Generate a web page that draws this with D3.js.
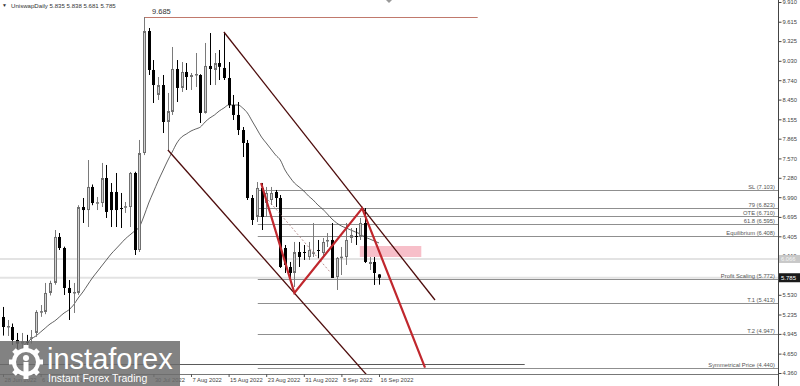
<!DOCTYPE html>
<html><head><meta charset="utf-8">
<script src="https://cdn.jsdelivr.net/npm/d3@7"></script>
<style>
html,body{margin:0;padding:0;background:#fff;}
svg{display:block;font-family:"Liberation Sans",Arial,sans-serif;}
</style></head><body>
<svg id="c" width="800" height="386"></svg>
<script>
// ---------- DATA ----------
const symbol = "UniswapDaily";
const firstDay = "2022-06-28";
const open  = [5.198,5.048,5.048,4.854,4.800,4.830,4.884,4.959,5.273,5.273,5.557,5.707,6.395,6.230,5.632,5.557,5.557,6.843,6.798,7.143,6.903,6.903,7.277,7.068,7.068,6.828,6.843,6.843,7.352,6.200,7.651,9.476,8.893,8.519,8.668,8.115,8.265,8.908,8.624,8.863,8.788,8.818,8.818,8.250,8.953,8.893,8.997,8.923,8.773,8.369,8.220,7.995,7.801,6.978,6.694,7.128,6.903,6.948,7.068,6.978,6.230,5.946,5.856,6.170,6.170,6.095,6.155,6.200,6.155,6.330,6.350,5.796,6.090,6.095,6.380,6.410,6.395,6.604,5.991,6.021,5.835];
const high  = [5.348,5.153,5.100,4.959,4.959,4.930,5.003,5.300,5.377,5.707,5.740,6.499,6.454,6.250,5.751,5.707,6.870,6.978,7.546,7.180,6.993,7.502,7.472,7.202,7.352,7.053,6.918,7.367,7.370,7.846,9.685,9.521,9.042,8.788,8.818,8.549,9.237,9.042,9.012,8.997,8.848,9.147,8.830,9.297,9.446,9.147,9.192,9.461,9.012,8.519,8.414,8.040,7.846,7.023,7.217,7.202,7.143,7.143,7.098,7.023,6.275,6.021,6.320,6.320,6.275,6.320,6.604,6.350,6.380,6.454,6.604,6.095,6.245,6.604,6.529,6.529,6.679,6.828,6.095,6.095,5.838];
const low   = [4.920,4.914,4.780,4.720,4.700,4.720,4.800,4.900,5.200,5.240,5.520,5.680,6.200,5.527,5.153,5.258,5.530,6.604,6.544,6.870,6.798,6.843,6.679,6.544,6.544,6.529,6.754,6.544,6.125,6.170,7.620,8.818,8.399,8.444,7.950,7.696,8.220,8.414,8.564,8.594,8.594,8.638,8.100,8.240,8.668,8.668,8.743,8.743,8.324,8.145,7.920,7.591,6.948,6.574,6.619,6.499,6.694,6.873,6.843,5.931,5.856,5.781,5.647,5.946,6.051,6.051,6.095,6.081,6.081,6.245,5.781,5.602,5.826,5.976,6.305,6.275,6.350,6.006,5.901,5.677,5.681];
const close = [5.048,5.063,4.854,4.800,4.830,4.810,4.895,5.273,5.285,5.557,5.707,6.395,6.230,5.632,5.557,5.572,6.843,6.798,7.143,6.903,6.915,7.277,6.769,6.798,6.798,6.815,6.855,7.352,6.200,7.651,9.476,8.893,8.668,8.668,8.115,8.279,8.908,8.624,8.863,8.788,8.818,8.833,8.250,8.953,8.908,8.997,8.940,8.773,8.369,8.220,7.995,7.801,6.978,6.649,7.128,6.694,7.053,7.053,6.978,5.946,5.976,5.856,6.170,6.095,6.160,6.200,6.165,6.190,6.320,6.350,5.781,6.081,6.100,6.350,6.425,6.395,6.604,6.021,6.021,5.856,5.785];
const ma    = [null,null,null,null,4.749,4.809,4.869,4.914,4.973,5.033,5.093,5.138,5.198,5.258,5.303,5.377,5.482,5.572,5.677,5.781,5.871,5.961,6.051,6.140,6.215,6.290,6.365,6.425,6.484,6.544,6.709,6.903,7.068,7.232,7.382,7.531,7.666,7.801,7.890,7.935,7.980,8.010,8.040,8.115,8.175,8.220,8.279,8.324,8.369,8.369,8.369,8.324,8.250,8.130,8.010,7.890,7.801,7.711,7.621,7.546,7.397,7.292,7.202,7.143,7.083,7.008,6.948,6.873,6.813,6.739,6.664,6.604,6.559,6.529,6.499,6.469,6.440,6.395,6.365,6.335,6.305];

const yTickValues = [9.910,9.615,9.325,9.030,8.740,8.450,8.155,7.865,7.570,7.280,6.990,6.695,6.405,6.110,5.820,5.530,5.235,4.945,4.650,4.360];
const dateTickValues = ["2022-06-28","2022-07-06","2022-07-14","2022-07-22","2022-07-30","2022-08-07","2022-08-15","2022-08-23","2022-08-31","2022-09-08","2022-09-16"];

// fibonacci / target levels
const levelNames  = ["SL","79","OTE","61.8","Equilibrium","Profit Scaling","T.1","T.2","Symmetrical Price"];
const levelValues = [7.103,6.823,6.710,6.595,6.408,5.772,5.413,4.947,4.440];
const levelStartDay = 54.2;

const peakValue = 9.685, peakStartDay = 30, peakEndDay = 101;
const zigzagDays   = [54.9, 62.0, 76.4, 89.8];
const zigzagPrices = [7.202, 5.557, 6.823, 4.440];
const channelUpperDays = [47.0, 91.9],  channelUpperPrices = [9.461, 5.452];
const channelLowerDays = [35.1, 78.0],  channelLowerPrices = [7.696, 4.282];
const dashedDays = [56.4, 69.6], dashedPrices = [6.948, 5.871];
const zoneDays = [75.9, 89.0], zonePrices = [6.260, 6.095];
const markerLevel = 6.066, markerLevelLabel = "6.066";
const lowLineValue = 4.495, lowLineEndDay = 111;
const lastPrice = 5.785;

// ---------- DRAW ----------
const W = 800, H = 386, plotR = 778, plotB = 374;
const svg = d3.select("#c");
const start = d3.timeParse("%Y-%m-%d")(firstDay);
const dayToDate = d => d3.timeHour.offset(start, Math.round(d*24));
const x = d3.scaleTime().domain([start, d3.timeDay.offset(start, 80)]).range([3, 379]);
const y = d3.scaleLinear().domain([4.360, 9.910]).range([373, 2]);
const X = d => x(dayToDate(d));

svg.append("defs").append("clipPath").attr("id","plot")
  .append("rect").attr("x",0).attr("y",0).attr("width",plotR).attr("height",plotB);

const g = svg.append("g").attr("clip-path","url(#plot)");

// light full-width lines
[markerLevel, lastPrice].forEach(v => {
  g.append("line").attr("x1",0).attr("x2",plotR).attr("y1",y(v)).attr("y2",y(v))
   .attr("stroke","#e3e3e3").attr("stroke-width",2);
});

// level lines
levelValues.forEach((v,i) => {
  g.append("line").attr("x1",X(levelStartDay)).attr("x2",plotR)
   .attr("y1",Math.round(y(v))+0.5).attr("y2",Math.round(y(v))+0.5)
   .attr("stroke","#8f8f8f").attr("stroke-width",1);
  svg.append("text").attr("x",775).attr("y",Math.round(y(v))-1.5)
   .attr("text-anchor","end").attr("font-size",5.8).attr("fill","#555")
   .text(`${levelNames[i]} (${v.toFixed(3)})`);
});

// low dark line
g.append("line").attr("x1",0).attr("x2",X(lowLineEndDay))
 .attr("y1",Math.round(y(lowLineValue))+0.5).attr("y2",Math.round(y(lowLineValue))+0.5)
 .attr("stroke","#5a5a5a").attr("stroke-width",1);

// pink zone
g.append("rect").attr("x",X(zoneDays[0])).attr("y",y(zonePrices[0]))
 .attr("width",X(zoneDays[1])-X(zoneDays[0])).attr("height",y(zonePrices[1])-y(zonePrices[0]))
 .attr("fill","#f7bfc9");

// peak line
g.append("line").attr("x1",X(peakStartDay)).attr("x2",X(peakEndDay))
 .attr("y1",Math.round(y(peakValue))+0.5).attr("y2",Math.round(y(peakValue))+0.5)
 .attr("stroke","#c0796c").attr("stroke-width",1);
svg.append("text").attr("x",X(peakStartDay)+8).attr("y",y(peakValue)-3.5)
 .attr("font-size",7.5).attr("fill","#333").text(peakValue.toFixed(3));

// moving average
const maLine = d3.line().defined(d => d.v != null).x(d => X(d.i)).y(d => y(d.v)).curve(d3.curveMonotoneX);
g.append("path").datum(ma.map((v,i)=>({i,v}))).attr("d",maLine)
 .attr("fill","none").attr("stroke","#3a3a3a").attr("stroke-width",0.8);

// candles
const cg = g.append("g");
open.forEach((o,i) => {
  const c = close[i], bull = c >= o;
  const xc = Math.round(X(i));
  cg.append("line").attr("x1",xc+0.5).attr("x2",xc+0.5)
    .attr("y1",y(high[i])).attr("y2",y(low[i]))
    .attr("stroke", bull ? "#7a7a7a" : "#000").attr("stroke-width",1);
  const top = y(Math.max(o,c)), bot = y(Math.min(o,c));
  const h = Math.max(1, bot-top);
  if (bull) {
    cg.append("rect").attr("x",xc-0.5).attr("y",top+0.5).attr("width",2).attr("height",Math.max(0.5,h-1))
      .attr("fill","#d2d2d2").attr("stroke","#6f6f6f").attr("stroke-width",1);
  } else {
    cg.append("rect").attr("x",xc-1).attr("y",top).attr("width",3).attr("height",h).attr("fill","#000");
  }
});

// channel lines
const pl = d3.line().x(d=>X(d[0])).y(d=>y(d[1]));
g.append("path").attr("d",pl(channelUpperDays.map((d,i)=>[d,channelUpperPrices[i]])))
 .attr("fill","none").attr("stroke","#4d0b0b").attr("stroke-width",1.3);
g.append("path").attr("d",pl(channelLowerDays.map((d,i)=>[d,channelLowerPrices[i]])))
 .attr("fill","none").attr("stroke","#4d0b0b").attr("stroke-width",1.3);

// dashed line
g.append("path").attr("d",pl(dashedDays.map((d,i)=>[d,dashedPrices[i]])))
 .attr("fill","none").attr("stroke","#a87676").attr("stroke-width",0.8).attr("stroke-dasharray","2,2");

// red zigzag
g.append("path").attr("d",pl(zigzagDays.map((d,i)=>[d,zigzagPrices[i]])))
 .attr("fill","none").attr("stroke","#c0272d").attr("stroke-width",2.2).attr("stroke-linejoin","miter");

// bottom border
svg.append("line").attr("x1",0).attr("x2",plotR).attr("y1",plotB+0.5).attr("y2",plotB+0.5)
 .attr("stroke","#777").attr("stroke-width",1);

// y axis
const ya = svg.append("g").attr("transform",`translate(${plotR+0.5},0)`)
 .call(d3.axisRight(y).tickValues(yTickValues).tickFormat(d3.format(".3f")).tickSize(3).tickSizeOuter(0));
ya.select(".domain").attr("stroke","#444").attr("d","M0,0V386");
ya.selectAll(".tick line").attr("stroke","#444");
ya.selectAll(".tick text").attr("font-size",5.8).attr("fill","#444").attr("x",4).attr("font-family","Liberation Sans, Arial, sans-serif");

// marker label
svg.append("rect").attr("x",779).attr("y",y(markerLevel)-4).attr("width",21).attr("height",8).attr("fill","#c8c8c8");
svg.append("text").attr("x",781).attr("y",y(markerLevel)+2.2).attr("font-size",5.8).attr("fill","#f4f4f4").text(markerLevelLabel);
// last price label
svg.append("rect").attr("x",779).attr("y",y(lastPrice)-4.5).attr("width",21).attr("height",9).attr("fill","#1a1a1a");
svg.append("text").attr("x",781).attr("y",y(lastPrice)+2.2).attr("font-size",6).attr("fill","#fff").text(lastPrice.toFixed(3));

// date axis
const xa = svg.append("g").attr("transform",`translate(0,${plotB})`)
 .call(d3.axisBottom(x).tickValues(dateTickValues.map(d=>d3.timeParse("%Y-%m-%d")(d)))
   .tickFormat(d3.timeFormat("%-d %b %Y")).tickSize(3).tickSizeOuter(0));
xa.select(".domain").remove();
xa.selectAll(".tick line").attr("stroke","#555");
xa.selectAll(".tick text").attr("font-size",5.8).attr("fill","#444").attr("text-anchor","start")
  .attr("x",1).attr("y",4).attr("font-family","Liberation Sans, Arial, sans-serif");

// title
svg.append("text").attr("x",2).attr("y",7).attr("font-size",5).attr("fill","#333").text("\u25BC");
svg.append("text").attr("x",11).attr("y",7.5).attr("font-size",6.1).attr("fill","#333")
 .text(`${symbol}  ${open[80].toFixed(3)} ${high[80].toFixed(3)} ${low[80].toFixed(3)} ${close[80].toFixed(3)}`);

// chart shift marker
svg.append("path").attr("d","M386,0L392,0L389,3Z").attr("fill","#999");

// watermark
const wm = svg.append("g");
wm.append("rect").attr("x",0).attr("y",341).attr("width",180).attr("height",45).attr("fill","#6c6c6c").attr("opacity",0.85);
const lg = wm.append("g").attr("transform","translate(26,362)");
for (let k=0;k<8;k++){
  lg.append("rect").attr("x",-2.5).attr("y",-17).attr("width",5).attr("height",6).attr("fill","#fff")
    .attr("transform",`rotate(${k*45})`);
}
lg.append("circle").attr("r",12).attr("fill","none").attr("stroke","#fff").attr("stroke-width",4);
lg.append("circle").attr("cx",0).attr("cy",-4).attr("r",3).attr("fill","#fff");
lg.append("rect").attr("x",-2.5).attr("y",0).attr("width",5).attr("height",12).attr("fill","#fff");
wm.append("text").attr("x",47).attr("y",369).attr("font-size",29).attr("fill","#fff").text("instaforex");
wm.append("text").attr("x",48).attr("y",381.5).attr("font-size",10.5).attr("fill","#fff").text("Instant Forex Trading");
</script>
</body></html>
